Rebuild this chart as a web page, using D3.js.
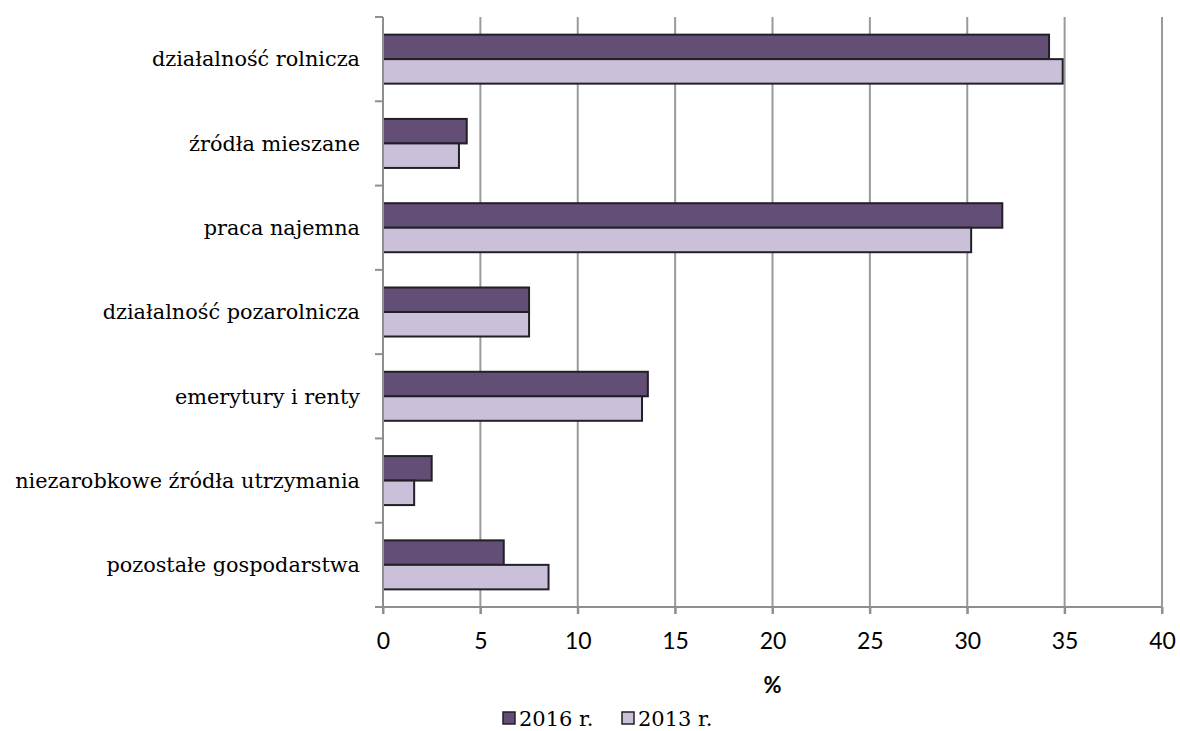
<!DOCTYPE html>
<html>
<head>
<meta charset="utf-8">
<script src="https://cdn.jsdelivr.net/npm/d3@7"></script>
<style>
  html, body { margin: 0; padding: 0; background: #fff; }
  svg { display: block; }
  .serif { font-family: "DejaVu Serif", serif; }
  .sans { font-family: Lato, "Open Sans", sans-serif; }
</style>
</head>
<body>
<svg id="chart" width="1180" height="731"></svg>
<script>
// Źródła utrzymania gospodarstw domowych, udział w %
const categories = [
  "działalność rolnicza",
  "źródła mieszane",
  "praca najemna",
  "działalność pozarolnicza",
  "emerytury i renty",
  "niezarobkowe źródła utrzymania",
  "pozostałe gospodarstwa"
];
const seriesNames = ["2016 r.", "2013 r."];
const values2016 = [34.2, 4.3, 31.8, 7.5, 13.6, 2.5, 6.2];
const values2013 = [34.9, 3.9, 30.2, 7.5, 13.3, 1.6, 8.5];
const xTicks = [0, 5, 10, 15, 20, 25, 30, 35, 40];
const xTitle = "%";

const seriesValues = [values2016, values2013];
const colors = ["#634e76", "#cbc0da"];

const svg = d3.select("#chart");
const plot = { left: 383, right: 1162, top: 17, bottom: 607 };

const x = d3.scaleLinear().domain([0, 40]).range([plot.left, plot.right]);
const y = d3.scaleBand().domain(categories).range([plot.top, plot.bottom]).padding(0);
const ySub = d3.scaleBand().domain(seriesNames).range([0, y.bandwidth()])
  .paddingInner(0).paddingOuter(0.72);

// pionowe linie siatki
svg.append("g")
  .selectAll("line")
  .data(xTicks.filter(d => d > 0))
  .join("line")
  .attr("x1", d => x(d)).attr("x2", d => x(d))
  .attr("y1", plot.top).attr("y2", plot.bottom + 7)
  .attr("stroke", "#9a9a9e").attr("stroke-width", 2);

// słupki
const groups = svg.append("g")
  .selectAll("g")
  .data(categories)
  .join("g")
  .attr("transform", d => `translate(0,${y(d)})`);

groups.selectAll("rect")
  .data((d, i) => seriesNames.map((s, j) => ({ s, j, v: seriesValues[j][i] })))
  .join("rect")
  .attr("x", x(0))
  .attr("y", d => ySub(d.s))
  .attr("width", d => x(d.v) - x(0))
  .attr("height", ySub.bandwidth())
  .attr("fill", d => colors[d.j])
  .attr("stroke", "#222026")
  .attr("stroke-width", 2);

// oś Y z kreskami na granicach kategorii
const yEdges = categories.map(c => y(c)).concat([plot.bottom]);
svg.append("line")
  .attr("x1", plot.left).attr("x2", plot.left)
  .attr("y1", plot.top).attr("y2", plot.bottom + 7)
  .attr("stroke", "#8e8e92").attr("stroke-width", 2);
svg.append("g").selectAll("line")
  .data(yEdges)
  .join("line")
  .attr("x1", plot.left - 8).attr("x2", plot.left)
  .attr("y1", d => d).attr("y2", d => d)
  .attr("stroke", "#8e8e92").attr("stroke-width", 2);

// oś X
const xAxis = d3.axisBottom(x).tickValues(xTicks).tickSize(7).tickPadding(19);
const gx = svg.append("g")
  .attr("transform", `translate(0,${plot.bottom})`)
  .call(xAxis);
gx.attr("font-family", null).attr("font-size", null);
gx.select(".domain").attr("stroke", "#8e8e92").attr("stroke-width", 2)
  .attr("d", `M${plot.left - 8},0H${plot.right}`);
gx.selectAll(".tick line").attr("stroke", "#8e8e92").attr("stroke-width", 2);
gx.selectAll(".tick text")
  .attr("fill", "#000")
  .attr("class", "sans")
  .style("font-size", "23px");

// etykiety kategorii
svg.append("g").selectAll("text")
  .data(categories)
  .join("text")
  .attr("class", "serif")
  .attr("x", 360)
  .attr("y", d => y(d) + y.bandwidth() / 2)
  .attr("dy", "0.35em")
  .attr("text-anchor", "end")
  .style("font-size", "20.8px")
  .text(d => d);

// tytuł osi X
svg.append("text")
  .attr("class", "sans")
  .attr("x", (plot.left + plot.right) / 2).attr("y", 693)
  .attr("text-anchor", "middle")
  .style("font-weight", "bold")
  .style("font-size", "22px")
  .text(xTitle);

// legenda
const legendX = [503, 622];
const legend = svg.append("g").selectAll("g")
  .data(seriesNames)
  .join("g")
  .attr("transform", (d, i) => `translate(${legendX[i]},712)`);
legend.append("rect")
  .attr("x", 0).attr("y", 0).attr("width", 12).attr("height", 12)
  .attr("fill", (d, i) => colors[i])
  .attr("stroke", "#222026").attr("stroke-width", 1.5);
legend.append("text")
  .attr("class", "serif")
  .attr("x", 16).attr("y", 14)
  .style("font-size", "21px")
  .text(d => d);
</script>
</body>
</html>
